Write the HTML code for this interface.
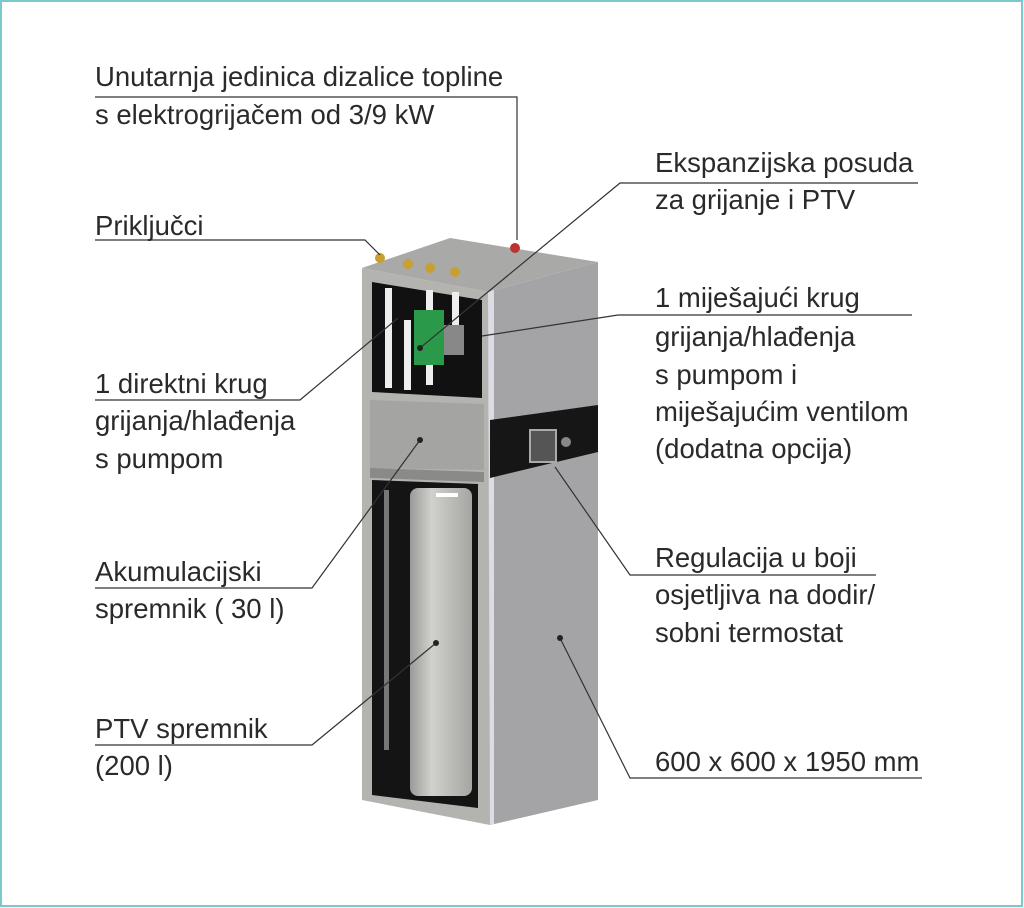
<!DOCTYPE html>
<html><head><meta charset="utf-8"><style>
html,body{margin:0;padding:0;background:#fff}
svg{display:block}
text{font-family:"Liberation Sans",sans-serif;font-size:27.5px;fill:#2a2a2a}
</style></head><body>
<svg width="1024" height="908" viewBox="0 0 1024 908" xmlns="http://www.w3.org/2000/svg">
<rect x="1" y="1" width="1021" height="905" fill="#fff" stroke="#7cc9c9" stroke-width="2"/>
<defs>
<linearGradient id="tank" x1="0" x2="1"><stop offset="0" stop-color="#9a9a98"/><stop offset=".35" stop-color="#d0d0cc"/><stop offset="1" stop-color="#a5a5a2"/></linearGradient>
</defs>
<polygon points="362,268 450,238 598,262 488,292" fill="#a9a9a7"/>
<polygon points="488,292 598,262 598,800 490,825" fill="#a4a4a6"/>
<polygon points="488,292 494,290 494,824 490,825" fill="#dcdce4"/>
<polygon points="490,420 598,405 598,452 490,478" fill="#161616"/>
<rect x="530" y="430" width="26" height="32" fill="#555" stroke="#aaa" stroke-width="2"/>
<circle cx="566" cy="442" r="5" fill="#888"/>
<polygon points="362,268 488,292 490,825 362,800" fill="#b3b3b0"/>
<polygon points="372,282 482,300 482,398 372,392" fill="#111"/>
<polygon points="370,400 484,404 484,470 370,468" fill="#a4a4a2"/>
<polygon points="370,468 484,472 484,482 370,478" fill="#8a8a88"/>
<polygon points="372,480 478,484 478,808 372,795" fill="#141414"/>
<rect x="410" y="488" width="62" height="308" rx="8" fill="url(#tank)"/>
<rect x="436" y="493" width="22" height="4" fill="#fff"/>
<rect x="385" y="288" width="7" height="100" fill="#eee"/>
<rect x="404" y="320" width="7" height="70" fill="#eee"/>
<rect x="426" y="290" width="7" height="95" fill="#eee"/>
<rect x="452" y="292" width="7" height="50" fill="#eee"/>
<rect x="414" y="310" width="30" height="55" fill="#2a9a4a"/>
<rect x="444" y="325" width="20" height="30" fill="#888"/>
<rect x="384" y="490" width="5" height="260" fill="#777"/>
<circle cx="380" cy="258" r="5" fill="#c9a030"/><circle cx="408" cy="264" r="5" fill="#c9a030"/><circle cx="430" cy="268" r="5" fill="#c9a030"/><circle cx="455" cy="272" r="5" fill="#c9a030"/>
<circle cx="515" cy="248" r="5" fill="#b33"/>
<g stroke="#333" stroke-width="1.2" fill="none">
<polyline points="95,97 517,97 517,240"/>
<polyline points="918,183 620,183 420,348"/>
<polyline points="95,240 365,240 380,255"/>
<polyline points="95,400 300,400 398,318"/>
<polyline points="912,315 618,315 482,336"/>
<polyline points="95,588 312,588 420,440"/>
<polyline points="876,575 630,575 555,467"/>
<polyline points="95,745 312,745 436,643"/>
<polyline points="922,778 630,778 560,638"/>
</g>
<g fill="#222"><circle cx="420" cy="348" r="3"/><circle cx="420" cy="440" r="3"/><circle cx="436" cy="643" r="3"/><circle cx="560" cy="638" r="3"/></g>
<text x="95" y="86">Unutarnja jedinica dizalice topline</text>
<text x="95" y="124">s elektrogrijačem od 3/9 kW</text>
<text x="655" y="172">Ekspanzijska posuda</text>
<text x="655" y="209">za grijanje i PTV</text>
<text x="95" y="235">Priključci</text>
<text x="655" y="307">1 miješajući krug</text>
<text x="655" y="346">grijanja/hlađenja</text>
<text x="655" y="384">s pumpom i</text>
<text x="655" y="421">miješajućim ventilom</text>
<text x="655" y="458">(dodatna opcija)</text>
<text x="95" y="393">1 direktni krug</text>
<text x="95" y="430">grijanja/hlađenja</text>
<text x="95" y="468">s pumpom</text>
<text x="655" y="567">Regulacija u boji</text>
<text x="655" y="604">osjetljiva na dodir/</text>
<text x="655" y="642">sobni termostat</text>
<text x="95" y="581">Akumulacijski</text>
<text x="95" y="618">spremnik ( 30 l)</text>
<text x="95" y="738">PTV spremnik</text>
<text x="95" y="775">(200 l)</text>
<text x="655" y="771">600 x 600 x 1950 mm</text>
</svg>
</body></html>
